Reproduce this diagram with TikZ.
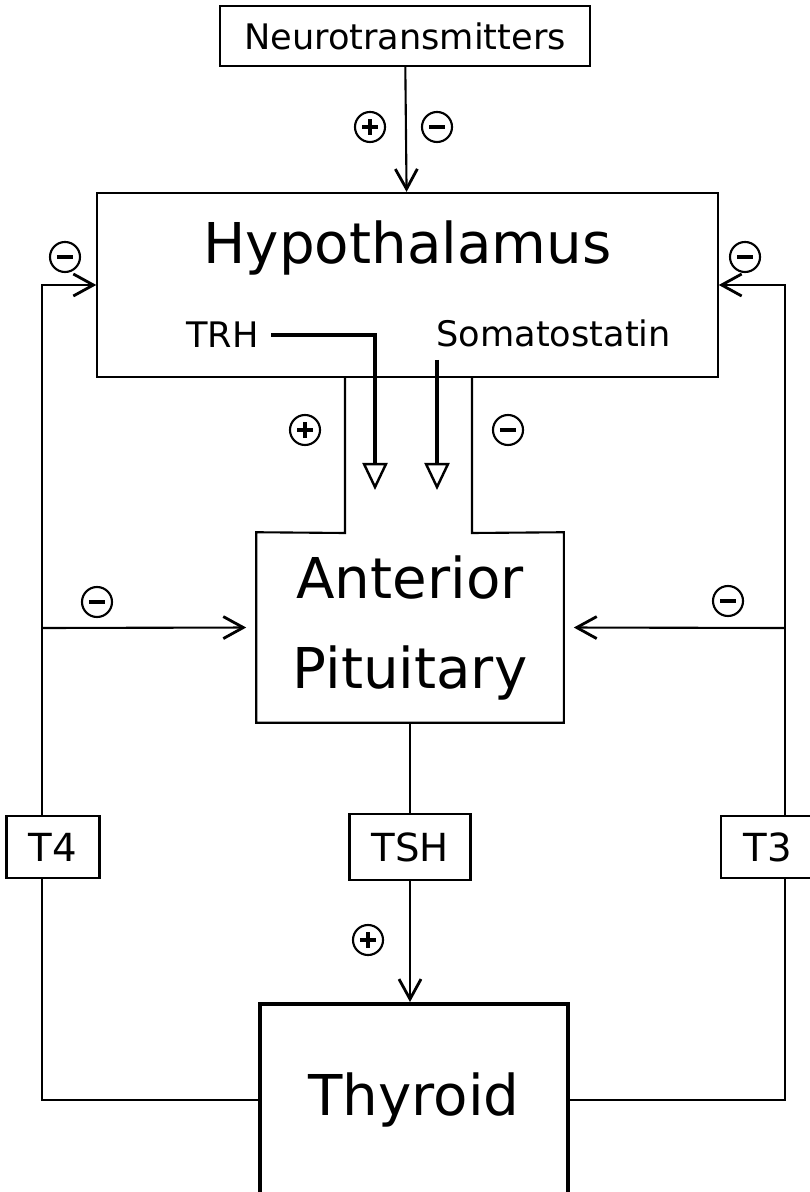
\documentclass[tikz,border=0pt]{standalone}
\usepackage{fontspec}
\setmainfont{DejaVu Sans}
\usetikzlibrary{arrows.meta,positioning}
\tikzset{
        % Organ boxes
        organ/.style={draw, line width=0.6pt, align=center, inner sep=0pt},
        organ_thick/.style={organ, line width=1.1pt},
        % Plain connectors
        link/.style={line width=0.6pt},
        % Hormone connectors with open triangle tip
        hormone/.style={line width=1pt, -{Triangle[open, length=0.27cm, width=0.25cm, line width=0.7pt]}},
        % Feedback signs
        sgn/.style={circle, draw, line width=0.6pt, minimum size=0.3cm, inner sep=0pt},
        sgn_minus/.style={sgn, path picture={
                \draw[line width=1.1pt] ([xshift=-0.08cm]path picture bounding box.center)
                    -- ([xshift=0.08cm]path picture bounding box.center);}},
        sgn_plus/.style={sgn, path picture={
                \draw[line width=1.1pt] ([xshift=-0.08cm]path picture bounding box.center)
                    -- ([xshift=0.08cm]path picture bounding box.center);
                \draw[line width=1.1pt] ([yshift=-0.08cm]path picture bounding box.center)
                    -- ([yshift=0.08cm]path picture bounding box.center);}},
        big/.style={font=\fontsize{16}{25.6}\selectfont},
        small/.style={font=\fontsize{10}{12}\selectfont}
}
\begin{document}
\begin{tikzpicture}[
            x=0.01cm, y=-0.01cm,
            >={Straight Barb[length=0.2cm, width=0.22cm, line width=0.8pt]}
        ]
            \useasboundingbox (0,0) rectangle (810,1192);
            % boxes
            \node[organ, small, minimum width=3.7cm, minimum height=0.6cm] (neuro) at (405,36) {Neurotransmitters};
            \node[organ, minimum width=6.2cm, minimum height=1.84cm] (hypo) at (407.5,285) {};
            \node[big, anchor=north, inner sep=0pt] (hypotext) at ([yshift=-0.28cm]hypo.north) {Hypothalamus};
            \node[big, align=center, minimum width=3.06cm, minimum height=1.89cm, inner sep=0pt] (pit) at (410,627.5) {Anterior\\Pituitary};
            \node[organ, font=\fontsize{11}{12}\selectfont, minimum width=1.21cm, minimum height=0.66cm] (tsh) at (410,847) {TSH};
            \node[organ_thick, big, minimum width=3.08cm, minimum height=1.92cm] (thy) at (414,1100) {Thyroid};
            \node[organ, font=\fontsize{11}{12}\selectfont, minimum width=0.93cm, minimum height=0.62cm] (t4) at (53,847) {T4};
            \node[organ, font=\fontsize{11}{12}\selectfont, minimum width=0.94cm, minimum height=0.62cm] (t3) at (768,847) {T3};
            \node[small, anchor=base west] (trh) at (174,348) {TRH};
            \node[small, anchor=base west] (somato) at (424,347) {Somatostatin};
            % anchor points
            \coordinate (stalkL) at (345,533);
            \coordinate (stalkR) at (472,533);
            \coordinate (lrail) at (42,628);
            \coordinate (rrail) at (785,628);
            \coordinate (trhend) at (375,490);
            \coordinate (somend) at (437,490);
            % pituitary outline with stalk
            \draw[link] (hypo.south -| stalkL) -- (stalkL) -- (pit.north west) -- (pit.south west)
                -- (pit.south east) -- (pit.north east) -- (stalkR) -- (hypo.south -| stalkR);
            % connectors
            \draw[link, ->] (neuro) -- (hypo);
            \draw[link] (pit) -- (tsh);
            \draw[link, ->] (tsh) -- (tsh |- thy.north);
            \draw[hormone] (trh.east) -| (trhend);
            \draw[hormone] (somato.south -| somend) -- (somend);
            % T4 loop
            \draw[link] (thy.west) -| (t4.south -| lrail);
            \draw[link, ->] (t4.north -| lrail) |- (hypo.west);
            \draw[link, ->, shorten >=0.1cm] (lrail) -- (pit.west);
            % T3 loop
            \draw[link] (thy.east) -| (t3.south -| rrail);
            \draw[link, ->] (t3.north -| rrail) |- (hypo.east);
            \draw[link, ->, shorten >=0.1cm] (rrail) -- (pit.east);
            % signs
            \node[sgn_plus] (s1) at (370,127) {};
            \node[sgn_minus] (s2) at (437,127) {};
            \node[sgn_minus] (s3) at (65,257) {};
            \node[sgn_minus] (s4) at (745,257) {};
            \node[sgn_plus] (s5) at (305,430) {};
            \node[sgn_minus] (s6) at (508,430) {};
            \node[sgn_minus] (s7) at (97,602) {};
            \node[sgn_minus] (s8) at (728,601) {};
            \node[sgn_plus] (s9) at (368,940) {};
        \end{tikzpicture}
\end{document}
